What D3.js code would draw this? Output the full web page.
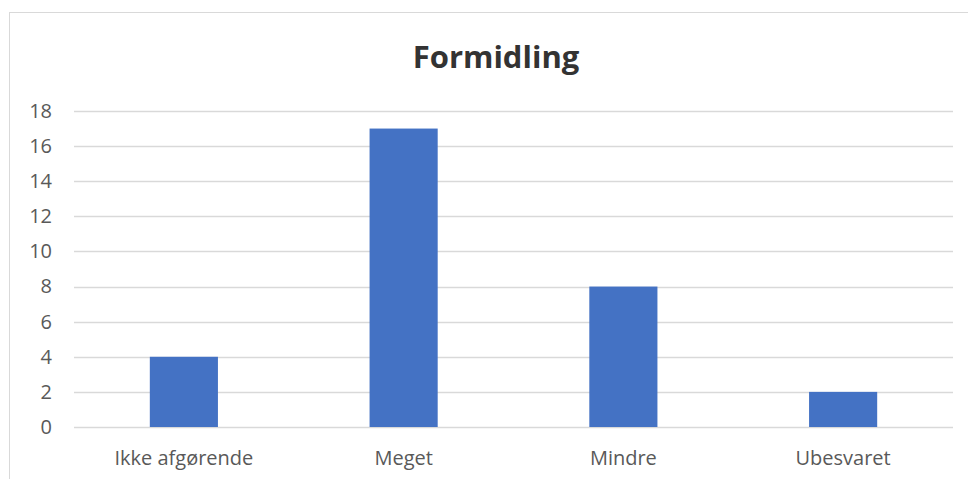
<!DOCTYPE html>
<html>
<head>
<meta charset="utf-8">
<script src="https://cdn.jsdelivr.net/npm/d3@7"></script>
<style>
  body { margin: 0; background: #fff; }
  text { font-family: "Open Sans", "Noto Sans", sans-serif; }
</style>
</head>
<body>
<svg id="chart" width="968" height="479"></svg>
<script>
// chart data
var categories = ["Ikke afgørende", "Meget", "Mindre", "Ubesvaret"];
var values = [4, 17, 8, 2];
var yTicks = [0, 2, 4, 6, 8, 10, 12, 14, 16, 18];
var title = "Formidling";

var svg = d3.select("#chart");
var margin = {top: 111, right: 15, bottom: 52, left: 74};
var width = 968 - margin.left - margin.right,
    height = 479 - margin.top - margin.bottom;

// outer chart border
svg.append("rect")
  .attr("x", 9.5)
  .attr("y", 12.5)
  .attr("width", 970)
  .attr("height", 480)
  .attr("fill", "none")
  .attr("stroke", "#d9d9d9")
  .attr("stroke-width", 1);

svg.append("text")
  .attr("x", 496)
  .attr("y", 68)
  .attr("text-anchor", "middle")
  .attr("font-size", "31px")
  .attr("font-weight", "bold")
  .attr("fill", "#333333")
  .text(title);

var g = svg.append("g")
  .attr("transform", "translate(" + margin.left + "," + margin.top + ")");

var x = d3.scaleBand()
  .domain(categories)
  .range([0, width])
  .padding(0);

var y = d3.scaleLinear()
  .domain([0, 18])
  .range([height, 0]);

// gridlines
g.selectAll(".grid")
  .data(yTicks)
  .enter().append("line")
  .attr("class", "grid")
  .attr("x1", 0)
  .attr("x2", width)
  .attr("y1", function(d) { return Math.round(y(d)) + 0.5; })
  .attr("y2", function(d) { return Math.round(y(d)) + 0.5; })
  .attr("stroke", "#d9d9d9")
  .attr("stroke-width", 1.3);

// y axis labels
var yAxis = d3.axisLeft(y).tickValues(yTicks).tickSize(0).tickPadding(22);
g.append("g")
  .call(yAxis)
  .call(function(a) { a.select(".domain").remove(); })
  .selectAll("text")
  .attr("font-size", "20px")
  .attr("fill", "#595959")
  .attr("font-family", "'Open Sans', sans-serif");

// bars
var barW = x.bandwidth() * 0.31;
g.selectAll(".bar")
  .data(values)
  .enter().append("rect")
  .attr("class", "bar")
  .attr("x", function(d, i) { return x(categories[i]) + x.bandwidth() / 2 - barW / 2; })
  .attr("y", function(d) { return y(d); })
  .attr("width", barW)
  .attr("height", function(d) { return height - y(d); })
  .attr("fill", "#4472c4");

// x axis labels
var xAxis = d3.axisBottom(x).tickSize(0).tickPadding(24);
g.append("g")
  .attr("transform", "translate(0," + height + ")")
  .call(xAxis)
  .call(function(a) { a.select(".domain").remove(); })
  .selectAll("text")
  .attr("font-size", "20px")
  .attr("fill", "#595959")
  .attr("font-family", "'Open Sans', sans-serif");
</script>
</body>
</html>
